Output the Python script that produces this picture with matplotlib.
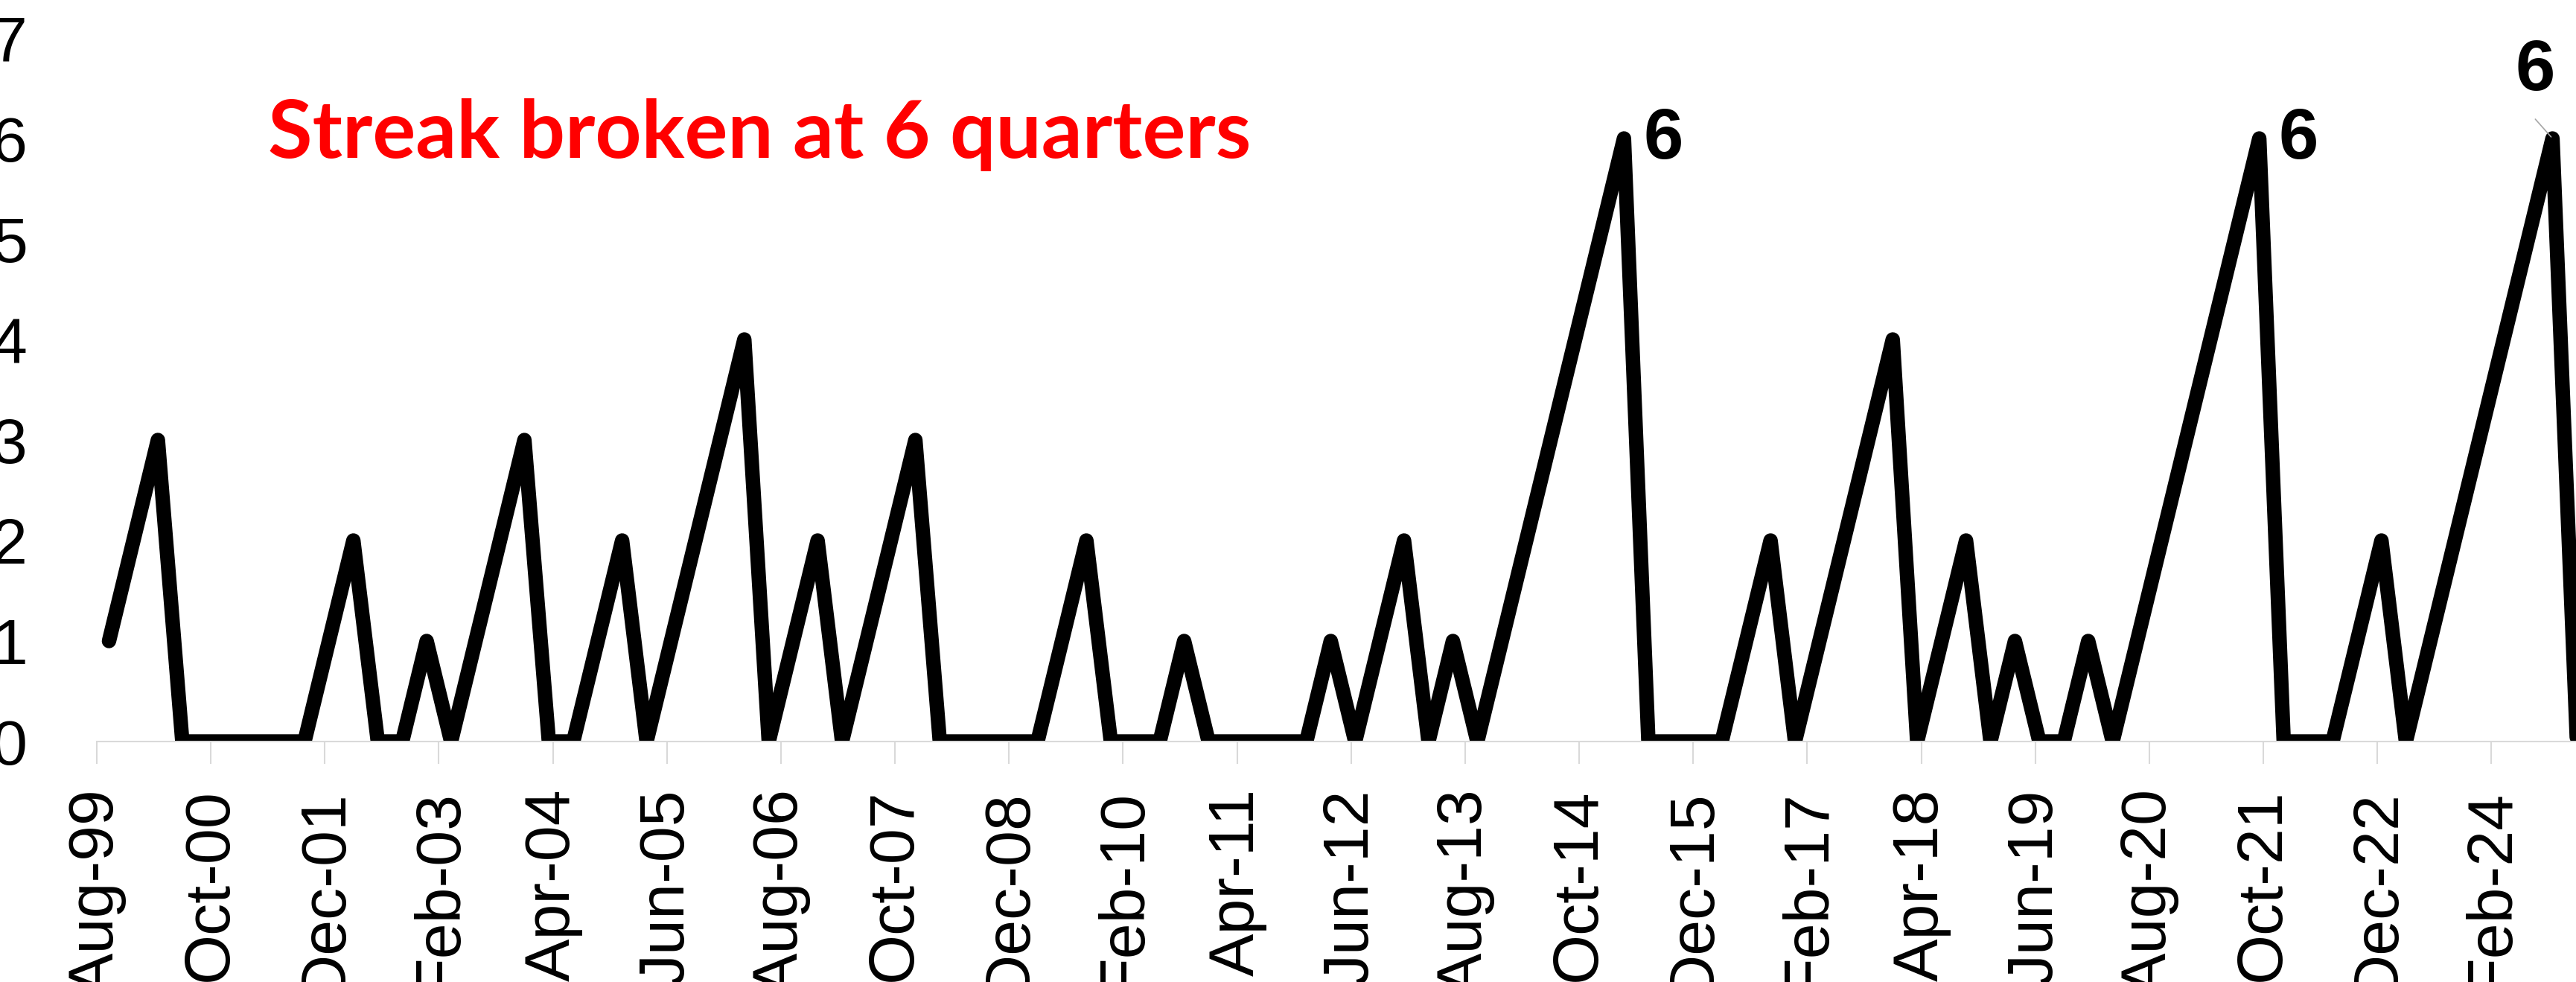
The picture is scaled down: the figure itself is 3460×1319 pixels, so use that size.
import matplotlib
matplotlib.use("Agg")
import matplotlib.pyplot as plt
import pandas as pd

plt.rcParams['font.family'] = ['Liberation Sans', 'DejaVu Sans']

# quarterly streak counts, Sep-99 .. Dec-24
streak = [1, 2, 3, 0, 0, 0, 0, 0, 0, 1, 2, 0, 0, 1, 0, 1, 2, 3, 0, 0,
          1, 2, 0, 1, 2, 3, 4, 0, 1, 2, 0, 1, 2, 3, 0, 0, 0, 0, 0, 1,
          2, 0, 0, 0, 1, 0, 0, 0, 0, 0, 1, 0, 1, 2, 0, 1, 0, 1, 2, 3,
          4, 5, 6, 0, 0, 0, 0, 1, 2, 0, 1, 2, 3, 4, 0, 1, 2, 0, 1, 0,
          0, 1, 0, 1, 2, 3, 4, 5, 6, 0, 0, 0, 1, 2, 0, 1, 2, 3, 4, 5,
          6, 0]
dates = pd.date_range('1999-09-01', periods=len(streak), freq='3MS')
tick_dates = pd.date_range('1999-08-01', '2024-02-01', freq='14MS')
title = 'Streak broken at 6 quarters'

start = pd.Timestamp('1999-08-01')

def month_pos(d):
    return (d.year - start.year) * 12 + (d.month - start.month) + 0.5

x = [month_pos(d) for d in dates]
xt = [month_pos(d) - 0.5 for d in tick_dates]

W, H = 3460, 1319
px_month = 10.94
fig = plt.figure(figsize=(W / 100, H / 100), dpi=100)
ax = fig.add_axes([130 / W, (H - 996) / H, 306 * px_month / W, 7 * 135 / H])

ax.plot(x, streak, color='black', lw=14, solid_joinstyle='round',
        solid_capstyle='round')

ax.set_xlim(0, 306)
ax.set_ylim(0, 7)
ax.set_yticks(range(8))
ax.set_xticks(xt)
ax.set_xticklabels([d.strftime('%b-%y') for d in tick_dates], rotation=90,
                   fontsize=62, va='top', ha='center')
ax.tick_params(axis='x', length=21.6, width=1.5, color='#d9d9d9', pad=24)
ax.tick_params(axis='y', length=0, labelsize=62, pad=67)
for s in ['left', 'right', 'top']:
    ax.spines[s].set_visible(False)
ax.spines['bottom'].set_color('#d9d9d9')
ax.spines['bottom'].set_linewidth(1.5)

# data labels on the 6-quarter peaks
peaks = [i for i, v in enumerate(streak) if v == 6]
for n, k in enumerate(peaks):
    if n < len(peaks) - 1:
        ax.annotate('6', (x[k], streak[k]), xytext=(19, -1.5), textcoords='offset points',
                    ha='left', va='center', fontsize=69, fontweight='bold')
    else:
        ax.annotate('6', (x[k], streak[k]), xytext=(-16.6, 65), textcoords='offset points',
                    ha='center', va='center', fontsize=69, fontweight='bold')
        ax.annotate('', (x[k], streak[k]), xytext=(-16.6, 18.7), textcoords='offset points',
                    arrowprops=dict(arrowstyle='-', color='#a6a6a6', lw=1.2,
                                    shrinkA=0, shrinkB=2))

fig.text(360 / W, 1 - 212 / H, title, color='red', fontsize=78, fontweight='bold',
         family=['Lato', 'DejaVu Sans'], ha='left', va='baseline')

fig.savefig('out.png', dpi=100)
